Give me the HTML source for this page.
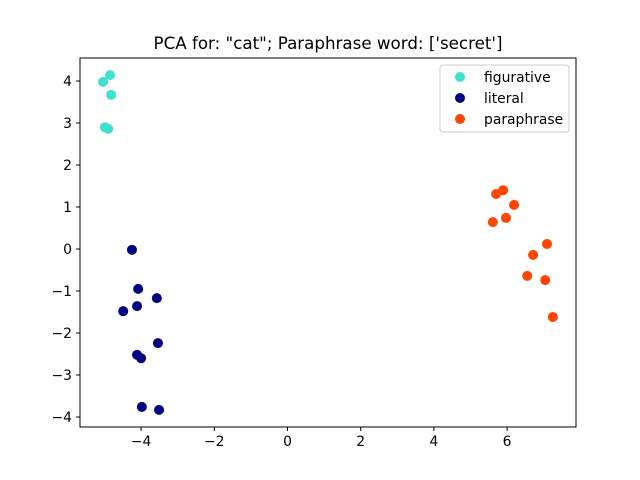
<!DOCTYPE html>
<html><head><meta charset="utf-8"><style>body{margin:0;background:#fff}svg{display:block;font-family:"DejaVu Sans","Liberation Sans",sans-serif}</style></head>
<body>
<svg id="chart" width="640" height="480" xmlns="http://www.w3.org/2000/svg">
<rect width="640" height="480" fill="#fff"/>
<text x="328" y="49" text-anchor="middle" font-size="16.7">PCA for: "cat"; Paraphrase word: ['secret']</text>
<g id="marks"></g>
<rect x="80" y="58" width="496" height="369" fill="none" stroke="#000" stroke-width="1"/>
<g id="axes"></g>
<g>
<rect x="440" y="65" width="129" height="67" rx="3" fill="#fff" stroke="#ccc"/>
<circle cx="460" cy="77" r="5" fill="#40e0d0"/><text x="484" y="82" font-size="13.9">figurative</text>
<circle cx="460" cy="98" r="5" fill="#000080"/><text x="484" y="103" font-size="13.9">literal</text>
<circle cx="460" cy="119" r="5" fill="#ff4500"/><text x="484" y="124" font-size="13.9">paraphrase</text>
</g>
</svg>
<script>
const figX=[-5.04,-4.85,-4.82,-4.99,-4.9];
const figY=[3.98,4.14,3.67,2.90,2.86];
const litX=[-4.25,-4.08,-3.57,-4.11,-4.49,-3.54,-4.11,-4.0,-3.98,-3.51];
const litY=[-0.02,-0.95,-1.17,-1.36,-1.48,-2.24,-2.52,-2.6,-3.76,-3.83];
const parX=[5.70,5.89,6.19,5.97,5.61,7.09,6.71,6.55,7.04,7.25];
const parY=[1.31,1.40,1.05,0.74,0.64,0.12,-0.14,-0.64,-0.74,-1.62];
const xTicks=[-4,-2,0,2,4,6];
const yTicks=[-4,-3,-2,-1,0,1,2,3,4];
const sx=v=>287.5+v*36.6, sy=v=>249-v*42;
const NS="http://www.w3.org/2000/svg";
const marks=document.getElementById('marks'), axes=document.getElementById('axes');
function pts(xs,ys,color,name){xs.forEach((x,i)=>{const c=document.createElementNS(NS,'circle');
c.setAttribute('cx',sx(x));c.setAttribute('cy',sy(ys[i]));c.setAttribute('r',5);c.setAttribute('fill',color);


marks.appendChild(c);});}
pts(figX,figY,'#40e0d0','figurative');pts(litX,litY,'#000080','literal');pts(parX,parY,'#ff4500','paraphrase');
function lab(x,y,t,anchor){const e=document.createElementNS(NS,'text');e.setAttribute('x',x);e.setAttribute('y',y);e.setAttribute('font-size','13.9');e.setAttribute('text-anchor',anchor);e.textContent=t;


axes.appendChild(e);}
function ln(x1,y1,x2,y2){const l=document.createElementNS(NS,'line');l.setAttribute('x1',x1);l.setAttribute('y1',y1);l.setAttribute('x2',x2);l.setAttribute('y2',y2);l.setAttribute('stroke','#000');


axes.appendChild(l);}
xTicks.forEach(t=>{const x=sx(t);ln(x,427,x,431);lab(x,446,(t<0?'\u2212':'')+Math.abs(t),'middle');});
yTicks.forEach(t=>{const y=sy(t);ln(76,y,80,y);lab(72,y+5,(t<0?'\u2212':'')+Math.abs(t),'end');});
</script>
</body></html>
